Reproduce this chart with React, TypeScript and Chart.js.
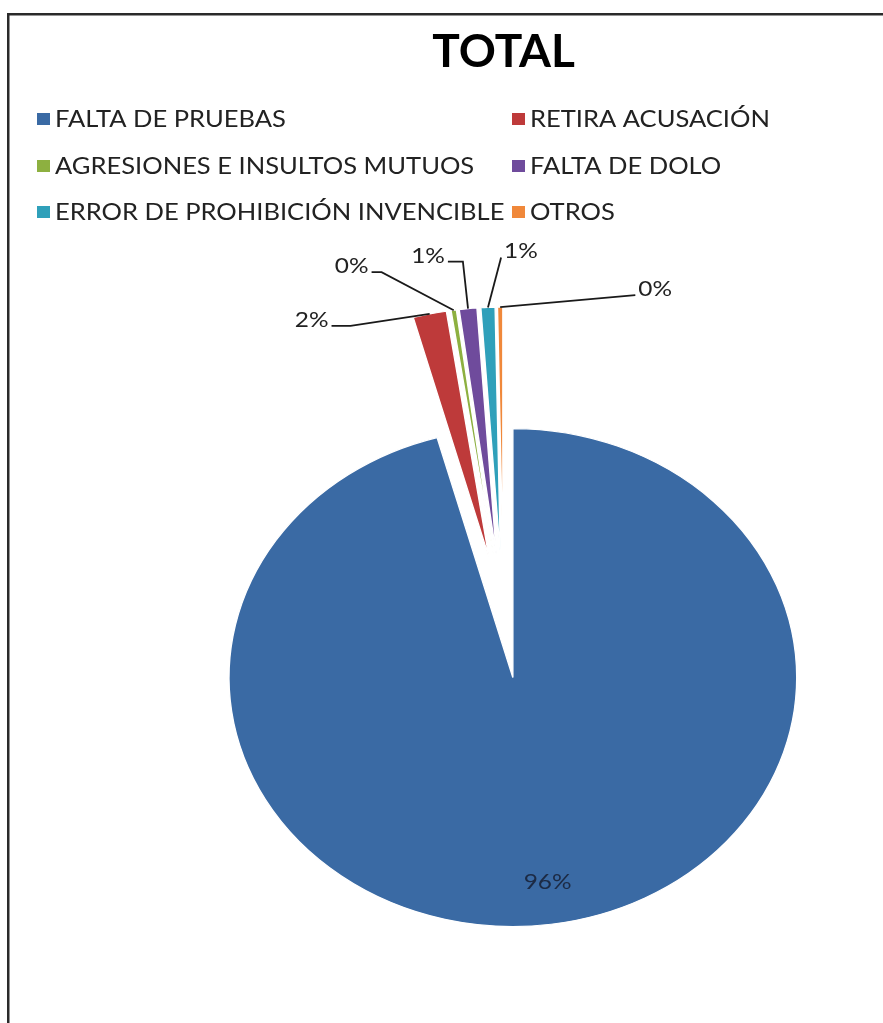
import React, { useEffect, useRef } from 'react';
import { Chart, registerables } from 'chart.js';

Chart.register(...registerables);

// ---------- data ----------
const categories = [
  'FALTA DE PRUEBAS',
  'RETIRA ACUSACIÓN',
  'AGRESIONES E INSULTOS MUTUOS',
  'FALTA DE DOLO',
  'ERROR DE PROHIBICIÓN INVENCIBLE',
  'OTROS',
];
const shares = [95.7, 1.9, 0.3, 1.0, 0.8, 0.3];
const sliceColors = ['#3A6AA4', '#BE3A3A', '#8DB040', '#6F4B9C', '#2FA0BA', '#F0883A'];
const chartTitle = 'TOTAL';

// ---------- layout / style ----------
const W = 883;
const H = 1023;
const PIE_RADIUS = 249;
const EXPLODE = 61;
const STRETCH_X = 1.14;
const TEXT_STRETCH = 1.11;
const FONT = 'Lato, "Open Sans", "DejaVu Sans", sans-serif';
// offsets of the outside labels from the slice's outer mid point (index = slice)
const labelOffsets: [number, number][] = [[0, 0], [-118, 6], [-102, -44], [-40, -53], [33, -56], [155, -18]];
const leaderStubs = [0, 19, 10, 15, 0, 0];
const legendCols = [37, 512];
const legendRows = [119, 166, 212];

function pctText(v: number, total: number) {
  return Math.round((v / total) * 100) + '%';
}

function stretchedText(ctx: CanvasRenderingContext2D, txt: string, x: number, y: number) {
  ctx.save();
  ctx.translate(x, y);
  ctx.scale(TEXT_STRETCH, 1);
  ctx.fillText(txt, 0, 0);
  ctx.restore();
}

const explodedPiePlugin = {
  id: 'explodedPie',
  beforeDatasetDraw(chart: any, args: any) {
    const meta = chart.getDatasetMeta(args.index);
    const ctx = chart.ctx;
    const first = meta.data[0];
    if (!first) return false;
    const cx = first.x;
    const cy = first.y;
    ctx.save();
    ctx.translate(cx, cy);
    ctx.scale(STRETCH_X, 1);
    ctx.translate(-cx, -cy);
    meta.data.forEach((arc: any) => {
      const mid = (arc.startAngle + arc.endAngle) / 2;
      ctx.save();
      ctx.translate(Math.cos(mid) * EXPLODE, Math.sin(mid) * EXPLODE);
      arc.draw(ctx, chart.chartArea);
      ctx.restore();
    });
    ctx.restore();
    return false;
  },
};

const decorPlugin = {
  id: 'decor',
  beforeDraw(chart: any) {
    const ctx = chart.ctx;
    ctx.save();
    ctx.fillStyle = '#ffffff';
    ctx.fillRect(0, 0, W, H);
    ctx.fillStyle = '#2a2a2a';
    ctx.fillRect(7, 13, W - 7, 2.5);
    ctx.fillRect(7, 13, 2.5, H - 13);
    ctx.restore();
  },
  afterDraw(chart: any) {
    const ctx = chart.ctx;
    const ds = chart.data.datasets[0];
    const values: number[] = ds.data;
    const colors: string[] = ds.backgroundColor;
    const total = values.reduce((a, b) => a + b, 0);
    ctx.save();

    // legend
    ctx.font = `23px ${FONT}`;
    ctx.textBaseline = 'middle';
    ctx.textAlign = 'left';
    chart.data.labels.forEach((lab: string, i: number) => {
      const x = legendCols[i % 2];
      const y = legendRows[Math.floor(i / 2)];
      ctx.fillStyle = colors[i];
      ctx.fillRect(x, y - 6, 13, 12);
      ctx.fillStyle = '#222222';
      stretchedText(ctx, lab, x + 18, y + 1);
    });

    // data labels
    const meta = chart.getDatasetMeta(0);
    ctx.font = `22px ${FONT}`;
    ctx.textAlign = 'center';
    meta.data.forEach((arc: any, i: number) => {
      const mid = (arc.startAngle + arc.endAngle) / 2;
      const cx = arc.x;
      const cy = arc.y;
      const txt = pctText(values[i], total);
      if (i === 0) {
        const r = EXPLODE + arc.outerRadius * 0.83;
        const x = cx + STRETCH_X * Math.cos(mid) * r;
        const y = cy + Math.sin(mid) * r;
        ctx.fillStyle = '#1c2a44';
        stretchedText(ctx, txt, x + 3, y);
        return;
      }
      const r = EXPLODE + arc.outerRadius;
      const px = cx + STRETCH_X * Math.cos(mid) * r;
      const py = cy + Math.sin(mid) * r;
      const [dx, dy] = labelOffsets[i];
      const lx = px + dx;
      const ly = py + dy;
      ctx.fillStyle = '#222222';
      stretchedText(ctx, txt, lx, ly);
      const half = (ctx.measureText(txt).width * TEXT_STRETCH) / 2;
      const leftSide = dx < 0;
      const sx = leftSide ? lx + half + 3 : lx - half - 3;
      const sy = ly + 6;
      const ex = leftSide ? sx + leaderStubs[i] : sx - leaderStubs[i];
      ctx.strokeStyle = '#1a1a1a';
      ctx.lineWidth = 1.8;
      ctx.beginPath();
      ctx.moveTo(sx, sy);
      ctx.lineTo(ex, sy);
      ctx.lineTo(px, py);
      ctx.stroke();
    });
    ctx.restore();
  },
};

export default function App() {
  const ref = useRef<HTMLCanvasElement | null>(null);
  useEffect(() => {
    if (!ref.current) return;
    const chart = new Chart(ref.current, {
      type: 'pie',
      data: {
        labels: categories,
        datasets: [
          {
            data: shares,
            backgroundColor: sliceColors,
            borderColor: '#ffffff',
            borderWidth: 1.2,
            radius: PIE_RADIUS,
          } as any,
        ],
      },
      options: {
        responsive: false,
        animation: false,
        devicePixelRatio: 1,
        layout: { padding: { left: 124, right: 0, top: 0, bottom: 0 } },
        plugins: {
          legend: { display: false },
          tooltip: { enabled: false },
          title: {
            display: true,
            text: chartTitle,
            color: '#000000',
            font: { family: FONT, size: 46, weight: 'bold' },
            padding: { top: 25, bottom: 131 },
          },
        },
      },
      plugins: [explodedPiePlugin, decorPlugin],
    });
    return () => chart.destroy();
  }, []);
  return (
    <div style={{ position: 'absolute', left: 0, top: 0, width: W, height: H }}>
      <canvas ref={ref} width={W} height={H} style={{ width: W, height: H, display: 'block' }} />
    </div>
  );
}
